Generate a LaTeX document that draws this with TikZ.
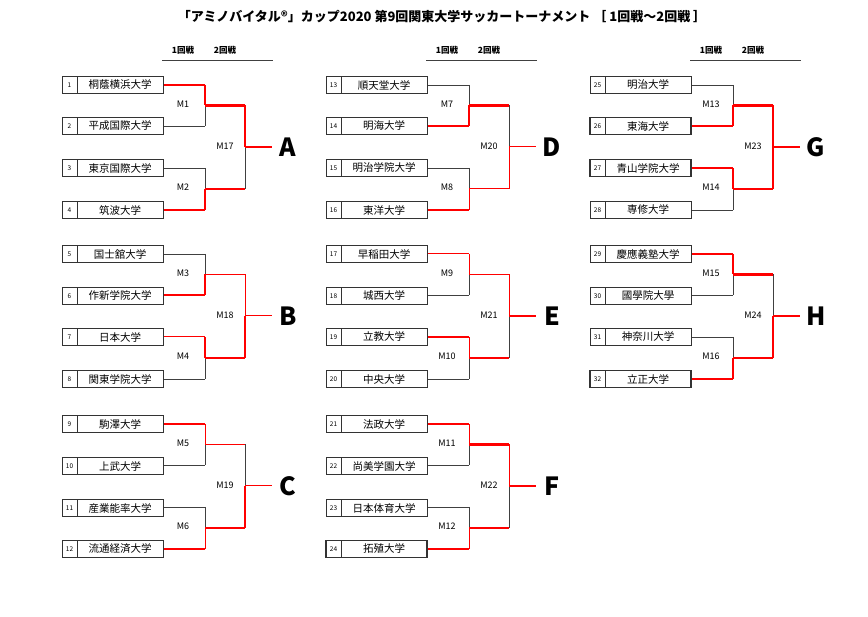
\documentclass[tikz,border=0pt]{standalone}
\usepackage{fontspec}
\setmainfont{Noto Sans CJK JP}
\begin{document}
\begin{tikzpicture}[x=1pt,y=-1pt,
  W/.style={draw=red,line width=2.4pt},
  w/.style={draw=red,line width=1pt},
  g/.style={draw=black!75,line width=0.8pt},
  boxst/.style={draw=black!80,line width=0.8pt},
  lab/.style={font=\fontsize{9}{10}\selectfont},
  hdr/.style={font=\bfseries\fontsize{8.5}{9}\selectfont}]
\useasboundingbox (0,0) rectangle (868,617);
\node[font=\bfseries\fontsize{13}{14}\selectfont] (title) at (442,17) {「アミノバイタル®」カップ2020 第9回関東大学サッカートーナメント ［ 1回戦～2回戦 ］};
\newcommand\hd[1]{%
  \node[hdr] at (#1+121,50) {1回戦};
  \node[hdr] at (#1+163,50) {2回戦};
  \draw[g] (#1+100,60) -- (#1+211,60);}
\hd{62}\hd{326}\hd{590}
\newcommand\tm[5][]{%
  \draw[boxst,#1] (#2,#3-8.5) rectangle (#2+101,#3+8.5);
  \draw[boxst] (#2+15,#3-8.5) -- (#2+15,#3+8.5);
  \node[font=\fontsize{6.5}{7}\selectfont] at (#2+7.5,#3) {#4};
  \node[font=\fontsize{10.5}{11}\selectfont] at (#2+58,#3) {#5};}
\newcommand\brk[7]{% x y ma mb mc letter styles
  \def\x{#1}\def\y{#2}%
  \foreach \a/\b/\c/\d/\e/\f/\g/\h/\i/\j/\k/\l/\m in {#7}{%
  \draw[\a] (\x+101,\y) -- (\x+143,\y);
  \draw[\b] (\x+143,\y) -- (\x+143,\y+20.5);
  \draw[\c] (\x+143,\y+20.5) -- (\x+143,\y+41);
  \draw[\d] (\x+101,\y+41) -- (\x+143,\y+41);
  \draw[\f] (\x+101,\y+83) -- (\x+143,\y+83);
  \draw[\g] (\x+143,\y+83) -- (\x+143,\y+104);
  \draw[\h] (\x+143,\y+104) -- (\x+143,\y+125);
  \draw[\i] (\x+101,\y+125) -- (\x+143,\y+125);
  \draw[\k] (\x+183,\y+20.5) -- (\x+183,\y+62);
  \draw[\l] (\x+183,\y+62) -- (\x+183,\y+104);
  \draw[\e] (\x+143,\y+20.5) -- (\x+183,\y+20.5);
  \draw[\j] (\x+143,\y+104) -- (\x+183,\y+104);
  \draw[\m] (\x+183,\y+62) -- (\x+210,\y+62);}
  \node[lab] at (\x+121,\y+19) {#3};
  \node[lab] at (\x+121,\y+102) {#4};
  \node[lab] at (\x+163,\y+61) {#5};
  \node[font=\bfseries\fontsize{25}{26}\selectfont] at (\x+226,\y+62) {#6};}
\brk{62}{85}{M1}{M2}{M17}{A}{W/W/g/g/W/g/g/W/W/W/W/g/W}
\brk{62}{254}{M3}{M4}{M18}{B}{g/g/W/W/w/w/W/g/g/W/w/W/w}
\brk{62}{424}{M5}{M6}{M19}{C}{W/w/g/g/w/g/g/w/W/W/g/W/w}
\brk{326}{85}{M7}{M8}{M20}{D}{g/g/W/W/W/g/g/w/W/w/g/w/w}
\brk{326}{254}{M9}{M10}{M21}{E}{w/w/g/g/w/W/w/g/g/W/w/g/W}
\brk{326}{424}{M11}{M12}{M22}{F}{W/w/g/g/W/g/g/w/W/W/w/g/W}
\brk{590}{85}{M13}{M14}{M23}{G}{g/g/W/W/W/W/W/g/g/W/W/W/W}
\brk{590}{254}{M15}{M16}{M24}{H}{W/W/g/g/W/g/g/W/W/W/g/W/W}
\tm{62}{85}{1}{桐蔭横浜大学}
\tm{62}{126}{2}{平成国際大学}
\tm{62}{168}{3}{東京国際大学}
\tm{62}{210}{4}{筑波大学}
\tm{62}{254}{5}{国士舘大学}
\tm{62}{296}{6}{作新学院大学}
\tm{62}{337}{7}{日本大学}
\tm{62}{379}{8}{関東学院大学}
\tm{62}{424}{9}{駒澤大学}
\tm{62}{466}{10}{上武大学}
\tm{62}{508}{11}{産業能率大学}
\tm{62}{549}{12}{流通経済大学}
\tm{326}{85}{13}{順天堂大学}
\tm{326}{126}{14}{明海大学}
\tm{326}{168}{15}{明治学院大学}
\tm{326}{210}{16}{東洋大学}
\tm{326}{254}{17}{早稲田大学}
\tm{326}{296}{18}{城西大学}
\tm{326}{337}{19}{立教大学}
\tm{326}{379}{20}{中央大学}
\tm{326}{424}{21}{法政大学}
\tm{326}{466}{22}{尚美学園大学}
\tm{326}{508}{23}{日本体育大学}
\tm[line width=1.4pt]{326}{549}{24}{拓殖大学}
\tm{590}{85}{25}{明治大学}
\tm[line width=1.4pt]{590}{126}{26}{東海大学}
\tm[line width=1.4pt]{590}{168}{27}{青山学院大学}
\tm{590}{210}{28}{専修大学}
\tm{590}{254}{29}{慶應義塾大学}
\tm{590}{296}{30}{國學院大學}
\tm{590}{337}{31}{神奈川大学}
\tm[line width=1.4pt]{590}{379}{32}{立正大学}
\end{tikzpicture}
\end{document}
